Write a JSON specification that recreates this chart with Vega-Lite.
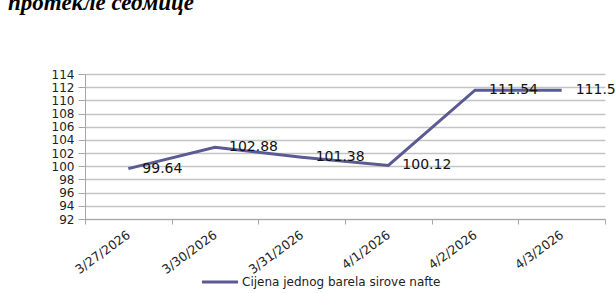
{
  "$schema": "https://vega.github.io/schema/vega-lite/v6.json",
  "autosize": {"type": "none"},
  "width": 520,
  "height": 145,
  "padding": {"left": 85, "top": 74, "right": 10, "bottom": 74},
  "background": "white",
  "title": {
    "text": "протекле седмице",
    "anchor": "start",
    "frame": "group",
    "font": "Liberation Serif",
    "fontSize": 23,
    "fontWeight": "bold",
    "fontStyle": "italic",
    "color": "#000000",
    "baseline": "alphabetic",
    "offset": 35,
    "dx": -77
  },
  "data": {
    "values": [
      {"date": "3/27/2026", "price": 99.64, "series": "Cijena jednog barela sirove nafte"},
      {"date": "3/30/2026", "price": 102.88, "series": "Cijena jednog barela sirove nafte"},
      {"date": "3/31/2026", "price": 101.38, "series": "Cijena jednog barela sirove nafte"},
      {"date": "4/1/2026", "price": 100.12, "series": "Cijena jednog barela sirove nafte"},
      {"date": "4/2/2026", "price": 111.54, "series": "Cijena jednog barela sirove nafte"},
      {"date": "4/3/2026", "price": 111.54, "series": "Cijena jednog barela sirove nafte"}
    ]
  },
  "encoding": {
    "x": {
      "field": "date",
      "type": "ordinal",
      "sort": null,
      "bandPosition": 0.5,
      "scale": {"type": "band", "paddingInner": 0, "paddingOuter": 0},
      "axis": {
        "title": null,
        "tickBand": "extent",
        "labelAngle": -36,
        "labelAlign": "right",
        "labelBaseline": "middle",
        "labelPadding": 9,
        "labelFont": "DejaVu Sans",
        "labelFontSize": 12.5,
        "labelColor": "#222222",
        "domainColor": "#a6a6a6",
        "tickColor": "#a6a6a6",
        "tickSize": 5,
        "grid": false
      }
    },
    "y": {
      "field": "price",
      "type": "quantitative",
      "scale": {"domain": [92, 114], "nice": false, "zero": false},
      "axis": {
        "title": null,
        "values": [92, 94, 96, 98, 100, 102, 104, 106, 108, 110, 112, 114],
        "labelFont": "DejaVu Sans",
        "labelFontSize": 12,
        "labelColor": "#222222",
        "domainColor": "#a6a6a6",
        "tickColor": "#a6a6a6",
        "tickSize": 7,
        "labelPadding": 4,
        "labelOverlap": false,
        "grid": true,
        "gridColor": "#c4c4c4",
        "gridWidth": 1.3
      }
    }
  },
  "layer": [
    {
      "mark": {"type": "line", "strokeWidth": 3},
      "encoding": {
        "color": {
          "field": "series",
          "type": "nominal",
          "scale": {"range": ["#5a5a94"]},
          "legend": {
            "title": null,
            "orient": "none",
            "legendX": 115,
            "legendY": 188,
            "symbolType": "stroke",
            "symbolSize": 1300,
            "symbolStrokeWidth": 3,
            "labelFont": "DejaVu Sans",
            "labelFontSize": 12,
            "labelLimit": 400,
            "labelColor": "#222222",
            "labelOffset": 2
          }
        }
      }
    },
    {
      "mark": {
        "type": "text",
        "align": "left",
        "baseline": "middle",
        "dx": 14,
        "font": "DejaVu Sans",
        "fontSize": 14,
        "color": "#111111"
      },
      "encoding": {
        "text": {"field": "price", "type": "quantitative", "format": ".2f"}
      }
    }
  ],
  "config": {"view": {"stroke": null}}
}
